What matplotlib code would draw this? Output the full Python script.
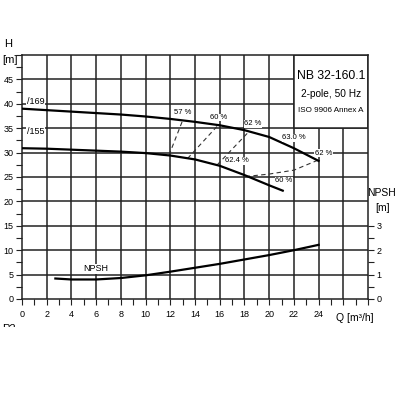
import matplotlib
matplotlib.use("Agg")
import matplotlib.pyplot as plt
from matplotlib.patches import Rectangle
from matplotlib.ticker import MultipleLocator, FixedLocator
from matplotlib.transforms import Bbox, TransformedBbox

plt.rcParams["font.family"] = ["Liberation Sans", "DejaVu Sans"]

# Förderhöhe H [m] über Q [m³/h]
q_169 = [0, 2, 4, 6, 8, 10, 12, 14, 16, 18, 20, 22, 24]
h_169 = [39.0, 38.7, 38.4, 38.1, 37.8, 37.4, 36.9, 36.3, 35.6, 34.6, 33.2, 30.9, 28.3]
q_155 = [0, 2, 4, 6, 8, 10, 12, 14, 16, 18, 20, 21.1]
h_155 = [30.9, 30.8, 30.6, 30.4, 30.2, 29.9, 29.4, 28.6, 27.3, 25.4, 23.3, 22.2]

# NPSH [m]
q_npsh = [2.7, 4, 6, 8, 10, 12, 14, 16, 18, 20, 22, 24]
npsh = [0.84, 0.8, 0.8, 0.86, 0.97, 1.12, 1.28, 1.44, 1.62, 1.8, 2.0, 2.22]

# Wirkungsgrad-Linien (gestrichelt)
eff_lines = [
    ([11.9, 13.0], [29.5, 36.6]),
    ([13.4, 15.9], [28.8, 35.7]),
    ([15.8, 18.4], [27.5, 34.4]),
    ([18.1, 20.0, 22.0, 23.9], [25.1, 25.6, 26.4, 28.4]),
]
eff_labels = ["57 %", "60 %", "62 %", "63.0 %", "62 %", "62.4 %", "60 %"]
eff_label_q = [13.0, 15.9, 18.7, 22.0, 24.4, 17.4, 21.2]
eff_label_h = [38.3, 37.2, 35.9, 33.0, 29.9, 28.3, 24.3]

x_ticks = list(range(0, 25, 2))
h_ticks = list(range(0, 50, 5))
npsh_ticks = [0, 1, 2, 3]

fig = plt.figure(figsize=(4, 4), dpi=100)
ax = fig.add_axes([0.055, 0.2525, 0.865, 0.61])
ax.set_xlim(0, 28)
ax.set_ylim(0, 50)

grid_c = "#222222"
for gx in range(2, 28, 2):
    ax.axvline(gx, color=grid_c, lw=1.1, zorder=1)
for gy in range(5, 50, 5):
    ax.axhline(gy, color=grid_c, lw=1.1, zorder=1)

# Typenschild-Box
ax.add_patch(Rectangle((22, 35), 6, 15, facecolor="white", edgecolor=grid_c, lw=1.1, zorder=2))
ax.text(25, 45.6, "NB 32-160.1", ha="center", va="center", fontsize=8.8, zorder=3)
ax.text(25, 42.1, "2-pole, 50 Hz", ha="center", va="center", fontsize=7.3, zorder=3)
ax.text(25, 38.6, "ISO 9906 Annex A", ha="center", va="center", fontsize=5.8, zorder=3)

ax.plot(q_169, h_169, color="black", lw=1.6, zorder=4)
ax.plot(q_155, h_155, color="black", lw=1.6, zorder=4)
for xs, ys in eff_lines:
    ax.plot(xs, ys, color="#333333", lw=0.8, dashes=(4, 3), zorder=3)
for lab, lx, ly in zip(eff_labels, eff_label_q, eff_label_h):
    ax.text(lx, ly, lab, ha="center", va="center", fontsize=5.5, zorder=5,
            bbox=dict(facecolor="white", edgecolor="none", pad=0.3))

ax.text(0.4, 40.4, "/169", ha="left", va="center", fontsize=6.5, zorder=5,
        bbox=dict(facecolor="white", edgecolor="none", pad=0.3))
ax.text(0.4, 34.3, "/155", ha="left", va="center", fontsize=6.5, zorder=5,
        bbox=dict(facecolor="white", edgecolor="none", pad=0.3))

for s in ax.spines.values():
    s.set_color(grid_c)
    s.set_linewidth(1.1)
ax.xaxis.set_major_locator(FixedLocator(x_ticks))
ax.xaxis.set_minor_locator(MultipleLocator(1))
ax.yaxis.set_major_locator(FixedLocator(h_ticks))
ax.yaxis.set_minor_locator(MultipleLocator(2.5))
ax.tick_params(axis="both", which="both", direction="out", length=4, width=0.8,
               color=grid_c, labelsize=6.5, pad=2)
ax.tick_params(axis="x", which="both", pad=4)

ax2 = ax.twinx()
ax2.set_ylim(0, 10)
ax2.plot(q_npsh, npsh, color="black", lw=1.6, zorder=4)
ax2.text(6.0, 1.24, "NPSH", ha="center", va="center", fontsize=6.5,
         bbox=dict(facecolor="white", edgecolor="none", pad=0.3))
ax2.yaxis.set_major_locator(FixedLocator(npsh_ticks))
ax2.yaxis.set_minor_locator(FixedLocator([0.5, 1.5, 2.5]))
ax2.tick_params(axis="y", which="both", direction="out", length=4, width=0.8,
                color=grid_c, labelsize=6.5, pad=2)
for s in ax2.spines.values():
    s.set_visible(False)

fig.text(8 / 400, 1 - 44 / 400, "H", ha="center", va="center", fontsize=8)
fig.text(10 / 400, 1 - 60 / 400, "[m]", ha="center", va="center", fontsize=8)
fig.text(382 / 400, 1 - 193 / 400, "NPSH", ha="center", va="center", fontsize=7.5)
fig.text(383 / 400, 1 - 208 / 400, "[m]", ha="center", va="center", fontsize=7.5)
fig.text(355 / 400, 1 - 318 / 400, "Q [m³/h]", ha="center", va="center", fontsize=7.5)

# abgeschnittenes "P2" am unteren Rand des Ausschnitts
p2 = fig.text(2 / 400, 1 - 329 / 400, "P2", ha="left", va="center", fontsize=8)
p2.set_clip_box(TransformedBbox(Bbox([[0, 1 - 327 / 400], [0.1, 1 - 320 / 400]]), fig.transFigure))

fig.savefig("out.png", dpi=100)
